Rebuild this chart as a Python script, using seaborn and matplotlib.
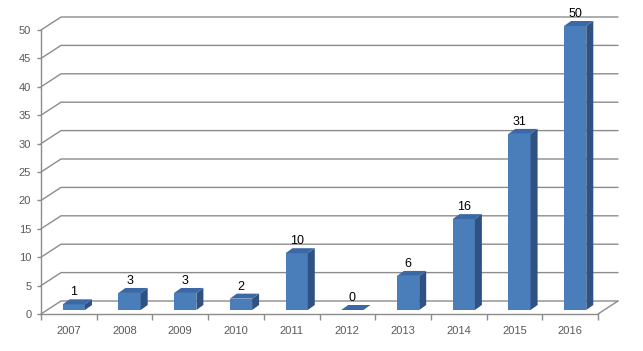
import matplotlib.pyplot as plt
import matplotlib.transforms as mtransforms
from matplotlib.patches import Polygon
import seaborn as sns
import pandas as pd

years = ['2007', '2008', '2009', '2010', '2011', '2012', '2013', '2014', '2015', '2016']
counts = [1, 3, 3, 2, 10, 0, 6, 16, 31, 50]
y_ticks = [0, 5, 10, 15, 20, 25, 30, 35, 40, 45, 50]

front = '#4a7ebb'
side = '#2f5283'
top = '#3c69a6'
line_col = '#8c8c8c'
label_col = '#595959'

# pseudo-3d offsets in pixels
wall_dx, wall_dy = 20, 13
bar_dx, bar_dy = 5, 4
depth_dx, depth_dy = 7, 5

sns.set_style('white')
plt.rcParams['font.family'] = ['Liberation Sans', 'DejaVu Sans']

DPI = 100
fig = plt.figure(figsize=(6.43, 3.51), dpi=DPI)
ax = fig.add_axes([41 / 643, 37 / 351, 557 / 643, 284 / 351])

df = pd.DataFrame({'year': years, 'count': counts})
sns.barplot(data=df, x='year', y='count', color=front, width=0.4,
            saturation=1, ax=ax, zorder=3)

ax.set_xlim(-0.5, len(years) - 0.5)
ax.set_ylim(0, 50)
ax.set_yticks(y_ticks)
ax.set_xlabel('')
ax.set_ylabel('')
ax.set_facecolor('none')

for s in ['top', 'right']:
    ax.spines[s].set_visible(False)
for s in ['left', 'bottom']:
    ax.spines[s].set_color(line_col)
    ax.spines[s].set_linewidth(1)

ax.tick_params(axis='y', direction='out', length=3, width=1, color=line_col,
               labelsize=8, labelcolor=label_col, pad=4, left=True)
ax.tick_params(axis='x', which='major', length=0, labelsize=8,
               labelcolor=label_col, pad=9)
ax.set_xticks([i - 0.5 for i in range(len(years) + 1)], minor=True)
ax.tick_params(axis='x', which='minor', direction='out', length=4, width=1,
               color=line_col, bottom=True)

fig.canvas.draw()
ident = mtransforms.IdentityTransform()

# back wall gridlines and left wall diagonals
x_lo, x_hi = ax.get_xlim()
for t in y_ticks:
    (fx, fy) = ax.transData.transform((x_lo, t))
    (rx, ry) = ax.transData.transform((x_hi, t))
    ax.plot([fx, fx + wall_dx, rx + wall_dx], [fy, fy + wall_dy, ry + wall_dy],
            transform=ident, color=line_col, lw=1, clip_on=False, zorder=1)
(rx, ry) = ax.transData.transform((x_hi, 0))
ax.plot([rx, rx + wall_dx], [ry, ry + wall_dy], transform=ident,
        color=line_col, lw=1, clip_on=False, zorder=1)

# 3d bar faces built from the seaborn patches
shift = mtransforms.offset_copy(ax.transData, fig=fig, x=bar_dx, y=bar_dy, units='dots')
for p, v in zip(ax.patches, counts):
    x0, w, h = p.get_x(), p.get_width(), p.get_height()
    (dx0, dy0) = shift.transform((x0, 0))
    (dx1, dy1) = shift.transform((x0 + w, h))
    p.set_transform(shift)
    p.set_clip_on(False)
    p.set_linewidth(0)
    side_pts = [(dx1, dy0), (dx1 + depth_dx, dy0 + depth_dy),
                (dx1 + depth_dx, dy1 + depth_dy), (dx1, dy1)]
    top_pts = [(dx0, dy1), (dx1, dy1), (dx1 + depth_dx, dy1 + depth_dy),
               (dx0 + depth_dx, dy1 + depth_dy)]
    ax.add_patch(Polygon(side_pts, closed=True, transform=ident, facecolor=side,
                         edgecolor='none', clip_on=False, zorder=3))
    ax.add_patch(Polygon(top_pts, closed=True, transform=ident, facecolor=top,
                         edgecolor='none', clip_on=False, zorder=3))
    ax.annotate(str(v), (x0 + w / 2, h), xytext=(bar_dx * 0.72, 11.5),
                textcoords='offset points', ha='center', va='center',
                fontsize=9, color='black', annotation_clip=False, zorder=4)

fig.savefig('out.png', dpi=DPI, facecolor='white')
